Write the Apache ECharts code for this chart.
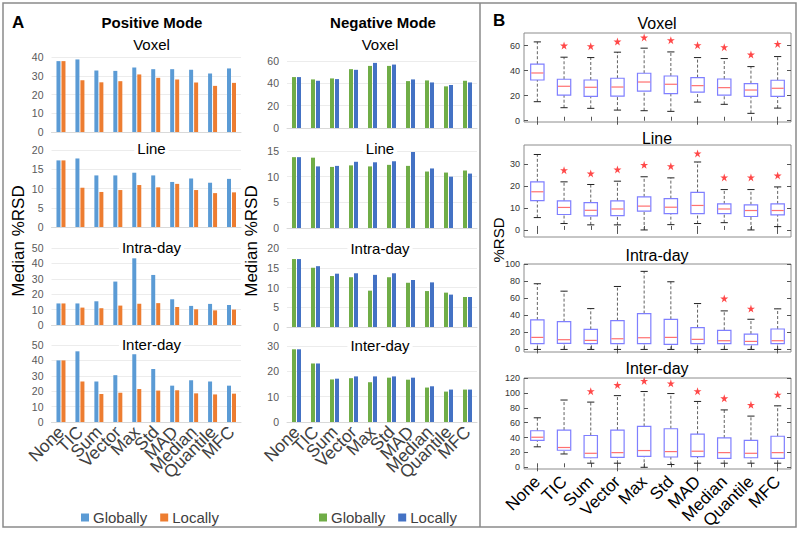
<!DOCTYPE html>
<html><head><meta charset="utf-8">
<script src="https://cdn.jsdelivr.net/npm/echarts@6/dist/echarts.min.js"></script>
<style>html,body{margin:0;padding:0;background:#fff}#c{width:800px;height:533px}</style>
</head><body><div id="c"></div>
<script>
// ---------- DATA ----------
const categories = ['None','TIC','Sum','Vector','Max','Std','MAD','Median','Quantile','MFC'];
const chartTitles = ['Voxel','Line','Intra-day','Inter-day'];

// Panel A – Positive mode (Median %RSD)
const posVoxelGlobally = [37.8,38.7,32.8,32.6,34.4,33.5,33.5,33.2,31.2,33.9];
const posVoxelLocally  = [37.8,27.6,26.5,27.1,30.7,28.9,28.0,26.4,24.6,26.2];
const posLineGlobally  = [17.3,17.8,13.4,13.4,14.1,13.4,11.7,12.6,11.5,12.5];
const posLineLocally   = [17.3,10.2,9.1,9.6,10.9,10.3,11.2,9.6,8.8,9.0];
const posIntraGlobally = [14.0,14.0,15.4,28.2,43.3,32.5,16.7,12.4,13.7,13.0];
const posIntraLocally  = [14.0,11.3,10.9,12.6,13.8,14.2,11.7,10.2,9.5,10.0];
const posInterGlobally = [40.0,45.9,26.3,30.4,44.0,34.4,23.6,27.1,26.3,23.6];
const posInterLocally  = [40.0,26.3,18.2,19.0,21.4,20.4,20.6,18.6,17.9,18.4];

// Panel A – Negative mode (Median %RSD)
const negVoxelGlobally = [45.6,43.5,44.4,52.7,55.6,55.6,42.0,42.6,37.3,42.3];
const negVoxelLocally  = [45.6,42.3,43.8,52.1,58.3,56.8,43.5,40.8,38.5,40.8];
const negLineGlobally  = [13.8,13.7,11.9,12.2,12.0,12.3,12.1,11.0,10.8,11.2];
const negLineLocally   = [13.8,12.0,12.1,12.9,12.8,13.0,14.8,11.6,10.0,10.6];
const negIntraGlobally = [17.2,15.0,12.9,12.6,9.2,12.6,11.2,9.1,8.7,7.6];
const negIntraLocally  = [17.2,15.4,13.5,13.6,13.2,13.6,11.9,11.3,8.2,7.6];
const negInterGlobally = [28.7,23.1,16.8,17.3,15.7,17.5,16.7,13.6,12.0,12.8];
const negInterLocally  = [28.7,23.1,17.1,18.0,18.0,18.0,17.5,14.1,12.8,12.8];

// tick labels of panel A
const posVoxelTicks = [0,10,20,30,40];
const posLineTicks  = [0,5,10,15,20];
const posIntraTicks = [0,10,20,30,40,50];
const posInterTicks = [0,10,20,30,40,50];
const negVoxelTicks = [0,20,40,60];
const negLineTicks  = [0,5,10,15];
const negIntraTicks = [0,5,10,15,20];
const negInterTicks = [0,10,20,30];

// Panel B – box plots [lower whisker, Q1, median, Q3, upper whisker]
const voxelBox = [[15.2,32.5,38.1,45.1,62.9],[10.4,20.5,27.5,33.1,50.7],[9.9,19.5,26.7,32.5,50.4],[8.5,19.7,26.9,33.9,54.7],[8.0,23.7,30.9,37.9,57.9],[7.5,21.6,29.1,35.7,54.9],[14.9,22.9,28.0,34.4,50.4],[13.1,20.5,26.4,33.3,49.6],[5.9,19.5,24.5,29.6,43.2],[10.1,19.5,25.9,32.3,51.2]];
const voxelStars = [null,60.0,59.5,63.2,66.4,64.3,60.3,58.7,52.8,61.3];
const lineBox = [[5.6,13.3,17.3,21.8,34.2],[2.9,7.0,10.2,13.2,21.8],[2.3,6.4,8.9,12.4,20.6],[2.3,6.5,9.5,13.2,22.1],[0.0,8.5,10.8,15.0,24.1],[2.4,7.4,10.3,14.2,23.6],[2.9,7.4,11.1,17.0,30.8],[3.3,7.4,9.5,11.8,18.3],[0.0,6.1,8.8,11.4,18.3],[1.5,6.8,8.8,11.8,19.5]];
const lineStars = [null,27.1,25.6,27.4,29.5,28.9,34.7,23.8,23.8,24.7];
const intraBox = [[0,6.7,14.1,34.5,76.9],[0,7.1,11.4,32.5,68.2],[0,6.7,10.6,23.5,47.8],[0,6.7,12.5,33.7,73.7],[0,6.7,13.7,42.0,91.4],[0,5.9,14.1,35.3,79.2],[0,6.7,11.8,25.5,53.7],[0,6.7,10.2,22.4,45.1],[0,5.5,9.4,18.0,35.3],[0,6.7,10.2,23.9,47.5]];
const intraStars = [null,null,null,null,null,null,null,59.6,47.8,null];
const interBox = [[27.5,36.2,40.4,49.1,66.5],[17.9,22.9,26.6,50.0,90.4],[5.5,12.8,18.8,42.7,87.6],[5.5,13.3,19.7,50.0,96.3],[0,14.7,22.5,55.0,101.8],[3.7,13.8,21.1,51.8,99.1],[5.5,14.2,21.6,44.5,88.5],[5.5,11.9,19.7,39.4,77.1],[5.5,12.8,18.8,36.2,68.8],[5.5,11.9,19.7,41.7,82.6]];
const interStars = [null,null,102.3,110.6,116.1,112.8,102.3,92.7,83.9,97.7];
const voxelBoxTicks = [0,20,40,60];
const lineBoxTicks  = [0,10,20,30];
const intraBoxTicks = [0,20,40,60,80,100];
const interBoxTicks = [0,20,40,60,80,100,120];

// ---------- LAYOUT / STYLE ----------
const FONT = '"Liberation Sans", Arial, Helvetica, sans-serif';
const barPanels = [
  {mode:'Positive', g:posVoxelGlobally, l:posVoxelLocally, ticks:posVoxelTicks, grid:{left:51.5,top:57,width:189.5,height:75}},
  {mode:'Positive', g:posLineGlobally,  l:posLineLocally,  ticks:posLineTicks,  grid:{left:51.5,top:150,width:189.5,height:77}},
  {mode:'Positive', g:posIntraGlobally, l:posIntraLocally, ticks:posIntraTicks, grid:{left:51.5,top:248,width:189.5,height:77}},
  {mode:'Positive', g:posInterGlobally, l:posInterLocally, ticks:posInterTicks, grid:{left:51.5,top:345,width:189.5,height:77}},
  {mode:'Negative', g:negVoxelGlobally, l:negVoxelLocally, ticks:negVoxelTicks, grid:{left:287,top:61,width:190,height:67}},
  {mode:'Negative', g:negLineGlobally,  l:negLineLocally,  ticks:negLineTicks,  grid:{left:287,top:151,width:190,height:77}},
  {mode:'Negative', g:negIntraGlobally, l:negIntraLocally, ticks:negIntraTicks, grid:{left:287,top:248,width:190,height:79}},
  {mode:'Negative', g:negInterGlobally, l:negInterLocally, ticks:negInterTicks, grid:{left:287,top:346,width:190,height:76}}
];
const modeColors = {Positive:['#5B9BD5','#ED7D31'], Negative:['#70AD47','#4472C4']};
const boxPanels = [
  {box:voxelBox, stars:voxelStars, ticks:voxelBoxTicks, range:[-1,70],    grid:{left:524,top:33,width:267,height:89}},
  {box:lineBox,  stars:lineStars,  ticks:lineBoxTicks,  range:[-3.2,38.5], grid:{left:524,top:145,width:267,height:92}},
  {box:intraBox, stars:intraStars, ticks:intraBoxTicks, range:[-3,100],   grid:{left:524,top:264,width:267,height:88}},
  {box:interBox, stars:interStars, ticks:interBoxTicks, range:[-2.3,120], grid:{left:524,top:378,width:267,height:91}}
];
const STAR = 'path://M50,0 L61.2,34.5 L97.6,34.5 L68.2,55.9 L79.4,90.5 L50,69.1 L20.6,90.5 L31.8,55.9 L2.4,34.5 L38.8,34.5 Z';

const grid = [], xAxis = [], yAxis = [], series = [];

barPanels.forEach((p, k) => {
  grid.push(Object.assign({containLabel:false}, p.grid));
  const bottom = (k % 4) === 3;
  xAxis.push({type:'category', gridIndex:k, data:categories,
    axisLine:{show:true, lineStyle:{color:'#d9d9d9'}}, axisTick:{show:false},
    axisLabel:{show:bottom, rotate:45, interval:0, fontSize:17.5, color:'#404040', fontFamily:FONT, margin:7}});
  const t = p.ticks;
  yAxis.push({type:'value', gridIndex:k, min:t[0], max:t[t.length-1], interval:t[1]-t[0],
    axisLine:{show:false}, axisTick:{show:false},
    axisLabel:{fontSize:10.5, color:'#595959', fontFamily:FONT, margin:8},
    splitLine:{show:true, lineStyle:{color:'#ececec', width:1}}});
  const cols = modeColors[p.mode];
  series.push({type:'bar', name:p.mode+'|Globally', xAxisIndex:k, yAxisIndex:k, data:p.g, barWidth:4, barGap:'25%', itemStyle:{color:cols[0]}, silent:true});
  series.push({type:'bar', name:p.mode+'|Locally', xAxisIndex:k, yAxisIndex:k, data:p.l, barWidth:4, barGap:'25%', itemStyle:{color:cols[1]}, silent:true});
});

boxPanels.forEach((p, j) => {
  const gi = 8 + j;
  grid.push(Object.assign({show:true, borderColor:'#8c8c8c', borderWidth:1, backgroundColor:'transparent'}, p.grid));
  const bottom = j === 3;
  xAxis[gi] = {type:'category', gridIndex:gi, data:categories, boundaryGap:true,
    axisLine:{show:false},
    axisTick:{show:true, inside:true, alignWithLabel:true, length:4, lineStyle:{color:'#555'}},
    axisLabel:{show:bottom, rotate:45, interval:0, fontSize:17, color:'#000', fontFamily:FONT, margin:10}};
  yAxis[gi] = {type:'value', gridIndex:gi, min:p.range[0], max:p.range[1],
    axisLine:{show:false},
    axisTick:{show:true, inside:true, length:4, customValues:p.ticks, lineStyle:{color:'#555'}},
    axisLabel:{customValues:p.ticks, fontSize:9, color:'#333', fontFamily:FONT, margin:4},
    splitLine:{show:false}};
});
// mirrored ticks (top / right) of panel B frames
boxPanels.forEach((p, j) => {
  const gi = 8 + j;
  xAxis.push({type:'category', gridIndex:gi, position:'top', data:categories, boundaryGap:true,
    axisLine:{show:false}, axisLabel:{show:false},
    axisTick:{show:true, inside:true, alignWithLabel:true, length:4, lineStyle:{color:'#555'}}});
  yAxis.push({type:'value', gridIndex:gi, position:'right', min:p.range[0], max:p.range[1],
    axisLine:{show:false}, axisLabel:{show:false, customValues:p.ticks},
    axisTick:{show:true, inside:true, length:4, customValues:p.ticks, lineStyle:{color:'#555'}},
    splitLine:{show:false}});
});

function renderBox(params, api) {
  const i = api.value(0);
  const mn = api.value(1), q1 = api.value(2), md = api.value(3), q3 = api.value(4), mx = api.value(5);
  const band = api.size([1, 0])[0];
  const bw = band * 0.5, cw = band * 0.27;
  const pMin = api.coord([i, mn]), pQ1 = api.coord([i, q1]), pMd = api.coord([i, md]);
  const pQ3 = api.coord([i, q3]), pMx = api.coord([i, mx]);
  const cx = pMd[0];
  const dash = {stroke:'#505050', lineWidth:0.9, lineDash:[3,2], fill:null};
  const cap = {stroke:'#222', lineWidth:1, fill:null};
  return {type:'group', children:[
    {type:'line', shape:{x1:cx, y1:pQ3[1], x2:cx, y2:pMx[1]}, style:dash},
    {type:'line', shape:{x1:cx, y1:pMin[1], x2:cx, y2:pQ1[1]}, style:dash},
    {type:'line', shape:{x1:cx-cw/2, y1:pMx[1], x2:cx+cw/2, y2:pMx[1]}, style:cap},
    {type:'line', shape:{x1:cx-cw/2, y1:pMin[1], x2:cx+cw/2, y2:pMin[1]}, style:cap},
    {type:'rect', shape:{x:cx-bw/2, y:pQ3[1], width:bw, height:pQ1[1]-pQ3[1]}, style:{fill:'#fff', stroke:'#7f7fff', lineWidth:1.2}},
    {type:'line', shape:{x1:cx-bw/2+0.6, y1:pMd[1], x2:cx+bw/2-0.6, y2:pMd[1]}, style:{stroke:'#ff7070', lineWidth:1.2, fill:null}}
  ]};
}

boxPanels.forEach((p, j) => {
  const gi = 8 + j;
  series.push({type:'custom', xAxisIndex:gi, yAxisIndex:gi, renderItem:renderBox,
    encode:{x:0, y:[1,2,3,4,5]}, silent:true,
    data:p.box.map((b, i) => [i].concat(b))});
  series.push({type:'scatter', xAxisIndex:gi, yAxisIndex:gi, symbol:STAR, symbolSize:8, silent:true,
    itemStyle:{color:'#ff1a1a'},
    data:p.stars.map((v, i) => v == null ? null : [i, v]).filter(d => d)});
});

function txt(x, y, s, size, weight, align, rot, bg) {
  const st = {text:s, font:(weight||'normal')+' '+size+'px '+FONT, fill:'#000',
      textAlign:align || 'center', textVerticalAlign:'middle', verticalAlign:'middle'};
  if (bg) { st.backgroundColor = '#fff'; st.padding = [0, 3]; }
  return {type:'text', x:x, y:y, rotation:rot || 0, silent:true, z:100, style:st};
}
const graphics = [
  {type:'rect', shape:{x:3, y:3, width:793, height:524}, style:{fill:'none', stroke:'#8a8a8a', lineWidth:1.5}, silent:true},
  {type:'line', shape:{x1:480, y1:3, x2:480, y2:527}, style:{stroke:'#8a8a8a', lineWidth:1.5}, silent:true},
  txt(12, 22, 'A', 17, 'bold', 'left'),
  txt(152, 22, 'Positive Mode', 15, 'bold'),
  txt(383, 22, 'Negative Mode', 15, 'bold'),
  txt(493, 20, 'B', 17, 'bold', 'left'),
  txt(18, 241, 'Median %RSD', 17, 'normal', 'center', Math.PI/2),
  txt(251, 241, 'Median %RSD', 17, 'normal', 'center', Math.PI/2),
  txt(498, 240, '%RSD', 15, 'normal', 'center', Math.PI/2)
];
const posTitleY = [44,148,247,344], negTitleY = [44,148,248,345], boxTitleY = [23,138,255,368];
chartTitles.forEach((t, k) => {
  graphics.push(txt(151.5, posTitleY[k], t, 15, 'normal', 'center', 0, true));
  graphics.push(txt(380, negTitleY[k], t, 15, 'normal', 'center', 0, true));
  graphics.push(txt(657, boxTitleY[k], t, 16));
});

const legendCommon = {orient:'horizontal', top:510, padding:0, itemWidth:8, itemHeight:8, itemGap:13,
  icon:'rect', selectedMode:false, formatter:n => n.split('|')[1],
  textStyle:{fontSize:15, color:'#404040', fontFamily:FONT, padding:[0,0,0,-1]}};
const option = {
  animation:false,
  backgroundColor:'#fff',
  grid:grid, xAxis:xAxis, yAxis:yAxis, series:series,
  legend:[
    Object.assign({left:81, data:['Positive|Globally','Positive|Locally']}, legendCommon),
    Object.assign({left:319, data:['Negative|Globally','Negative|Locally']}, legendCommon)
  ],
  graphic:{elements:graphics}
};
const chart = echarts.init(document.getElementById('c'), null, {renderer:'svg'});
chart.setOption(option);
</script></body></html>
